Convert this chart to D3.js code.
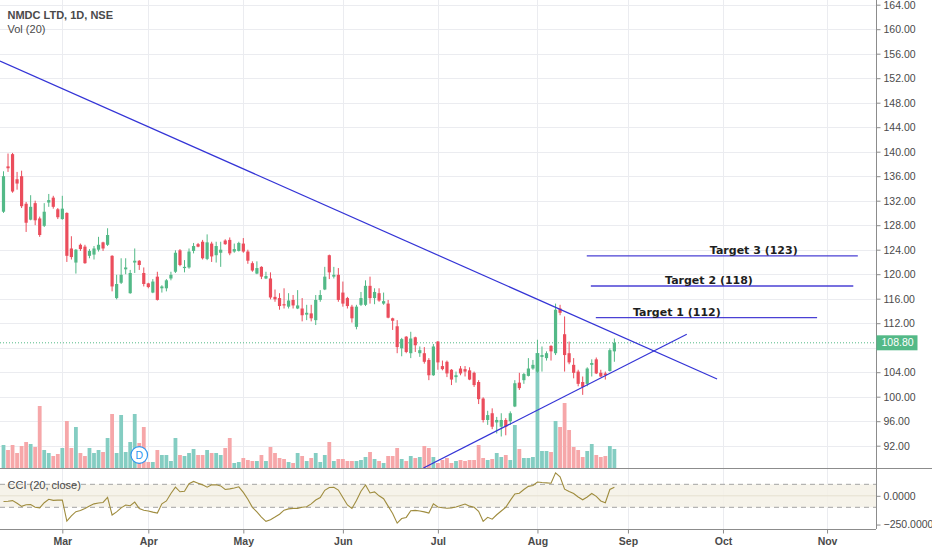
<!DOCTYPE html>
<html>
<head>
<meta charset="utf-8">
<script src="https://cdn.jsdelivr.net/npm/d3@7"></script>
<style>
  body { margin: 0; background: #fff; }
  svg { display: block; font-family: "Liberation Sans", Arial, sans-serif; }
</style>
</head>
<body>
<svg id="chart" width="932" height="550"></svg>
<script>
// NMDC LTD daily candles with volume, CCI(20) and hand-drawn trend / target lines
const MONTHS = ["Mar", "Apr", "May", "Jun", "Jul", "Aug", "Sep", "Oct", "Nov"];
const MONTH_BARS = [13, 32, 53, 75, 96, 118, 138, 159, 182];
const PRICE_TICKS = [92, 96, 100, 104, 108, 112, 116, 120, 124, 128, 132, 136, 140, 144, 148, 152, 156, 160, 164];
const CCI_TICKS = [0, -250];
const CCI_BANDS = [100, -100];

const OPEN = [
  130.2, 137.6, 139.6, 135.5, 136.0, 131.5, 128.9, 131.6, 129.1, 127.9,
  131.7, 132.5, 130.6, 129.0, 130.0, 124.2, 121.9, 124.8, 124.5, 123.0,
  123.2, 124.0, 125.2, 124.8, 123.0, 116.1, 118.6, 120.8, 116.9, 121.9,
  122.2, 120.2, 118.5, 117.0, 119.6, 117.7, 117.7, 119.3, 120.4, 123.9,
  121.0, 121.1, 123.8, 124.9, 125.3, 122.5, 125.0, 123.1, 123.5, 125.5,
  125.6, 123.7, 123.8, 125.0, 123.7, 121.8, 120.1, 121.2, 119.3, 119.3,
  116.3, 116.1, 115.1, 114.7, 115.8, 114.4, 114.4, 113.4, 113.6, 112.5,
  115.8, 117.5, 123.1, 119.6, 119.9, 117.0, 116.1, 114.7, 111.4, 115.0,
  115.0, 118.1, 116.1, 116.9, 115.2, 115.2, 112.8, 111.5, 107.9, 109.8,
  107.1, 109.7, 107.1, 107.1, 106.0, 103.5, 109.0, 105.0, 105.7, 104.4,
  103.2, 104.6, 104.5, 104.3, 103.9, 102.4, 99.7, 96.2, 97.3, 95.8,
  95.1, 96.2, 96.0, 98.4, 102.3, 102.7, 103.4, 104.6, 104.1, 106.5,
  106.3, 108.3, 107.1, 114.4, 110.2, 107.1, 105.2, 104.1, 102.4, 102.1,
  105.2, 106.1, 103.9, 103.8, 104.2, 107.4
];
const HIGH = [
  136.8, 139.7, 139.8, 136.7, 136.9, 131.8, 132.9, 132.0, 129.4, 131.6,
  133.1, 132.8, 130.8, 132.8, 130.1, 126.2, 124.1, 125.0, 124.8, 124.1,
  124.6, 126.1, 125.3, 127.5, 123.1, 119.9, 122.6, 122.6, 120.7, 124.2,
  122.3, 121.1, 118.6, 119.2, 120.4, 118.2, 119.2, 120.4, 123.9, 124.1,
  122.3, 124.2, 125.1, 125.1, 125.6, 126.5, 125.3, 125.3, 125.3, 125.7,
  126.0, 125.0, 125.3, 125.9, 124.0, 122.1, 122.1, 121.3, 120.4, 120.3,
  117.5, 116.9, 117.7, 116.9, 116.6, 117.4, 116.1, 115.0, 115.0, 116.6,
  117.4, 121.2, 123.2, 121.2, 121.0, 118.8, 116.3, 115.0, 115.0, 117.1,
  119.0, 119.6, 117.7, 117.7, 117.0, 115.8, 112.9, 112.5, 109.6, 109.9,
  110.6, 109.8, 108.2, 108.1, 106.3, 108.6, 109.1, 105.9, 105.9, 104.5,
  104.1, 105.0, 105.0, 104.8, 104.1, 102.7, 99.9, 97.7, 98.1, 96.7,
  97.3, 96.5, 97.6, 102.7, 103.9, 103.9, 106.3, 106.0, 109.3, 108.2,
  107.4, 108.4, 115.2, 115.0, 113.1, 109.0, 106.3, 104.4, 103.3, 104.8,
  106.1, 106.4, 104.4, 104.1, 107.9, 109.5
];
const LOW = [
  130.0, 136.7, 133.3, 133.8, 130.8, 126.9, 128.8, 128.0, 126.1, 127.7,
  131.0, 130.7, 129.0, 128.9, 122.0, 122.4, 120.1, 123.8, 121.7, 122.6,
  122.4, 123.7, 123.8, 124.6, 117.2, 115.9, 118.4, 120.0, 116.8, 120.2,
  120.7, 118.0, 117.7, 116.9, 115.7, 117.0, 117.2, 119.0, 120.2, 121.3,
  120.3, 120.9, 123.4, 124.4, 122.4, 122.3, 122.0, 121.9, 121.2, 124.8,
  123.1, 123.5, 123.7, 123.5, 121.7, 120.4, 120.0, 119.2, 119.2, 115.9,
  115.5, 114.2, 114.4, 114.4, 114.4, 114.3, 112.3, 112.5, 112.3, 111.7,
  115.5, 117.4, 119.2, 119.3, 115.5, 114.7, 114.4, 112.1, 111.0, 114.8,
  114.8, 115.2, 115.1, 115.5, 115.0, 112.8, 110.9, 107.1, 106.6, 107.1,
  106.3, 107.3, 106.5, 105.4, 102.7, 103.4, 104.4, 104.3, 103.2, 101.9,
  102.3, 103.5, 103.3, 102.7, 101.6, 98.8, 95.8, 95.4, 94.7, 94.0,
  93.5, 93.7, 95.4, 98.3, 101.1, 102.1, 103.3, 104.4, 103.9, 104.1,
  105.9, 105.9, 106.8, 113.3, 104.1, 105.3, 103.0, 101.7, 100.3, 101.7,
  103.3, 103.7, 103.2, 102.8, 104.1, 105.7
];
const CLOSE = [
  136.0, 137.3, 133.5, 134.8, 131.1, 128.4, 131.0, 128.8, 126.4, 130.2,
  132.1, 131.0, 129.3, 130.7, 123.0, 122.8, 124.0, 124.1, 121.8, 123.8,
  124.2, 124.8, 124.2, 126.4, 118.0, 118.4, 119.9, 121.1, 120.2, 122.2,
  121.5, 118.4, 117.9, 118.8, 115.8, 118.0, 119.0, 119.9, 123.5, 121.5,
  121.2, 123.7, 124.6, 124.5, 122.6, 125.2, 122.9, 124.6, 124.0, 124.9,
  123.4, 124.1, 125.1, 123.7, 122.2, 120.6, 121.0, 119.6, 119.7, 116.2,
  115.9, 114.8, 114.9, 115.7, 114.9, 114.9, 113.3, 113.7, 112.8, 115.8,
  116.6, 119.6, 120.3, 119.9, 115.8, 115.2, 114.8, 112.8, 114.7, 116.1,
  118.1, 116.1, 117.1, 115.7, 115.6, 112.9, 112.4, 108.1, 109.4, 107.3,
  109.5, 108.4, 107.6, 105.7, 103.5, 108.2, 105.6, 104.5, 103.8, 102.8,
  103.5, 103.8, 104.1, 102.8, 101.9, 99.6, 96.2, 97.0, 95.1, 96.2,
  96.2, 95.1, 97.3, 102.2, 101.4, 103.7, 104.6, 105.2, 107.1, 106.8,
  107.1, 107.4, 114.2, 113.7, 106.8, 105.6, 103.9, 102.1, 101.6, 104.6,
  105.5, 103.8, 103.3, 103.5, 107.6, 108.8
];
const VOLUME = [
  23, 18, 23, 15, 22, 26, 24, 21, 62, 18,
  15, 12, 14, 20, 47, 20, 41, 15, 12, 20,
  15, 18, 16, 30, 54, 15, 53, 16, 26, 54,
  25, 41, 6, 6, 18, 13, 13, 7, 30, 13,
  12, 15, 19, 13, 13, 18, 15, 15, 13, 20,
  30, 5, 6, 10, 8, 7, 7, 13, 7, 21,
  15, 10, 9, 6, 5, 15, 12, 7, 10, 15,
  6, 13, 26, 7, 9, 9, 7, 7, 7, 8,
  11, 16, 9, 7, 5, 12, 12, 20, 9, 7,
  12, 10, 11, 22, 20, 11, 5, 8, 10, 5,
  7, 8, 7, 8, 8, 23, 10, 8, 9, 15,
  11, 13, 8, 43, 19, 10, 10, 11, 115, 17,
  17, 16, 47, 41, 65, 38, 21, 18, 11, 17,
  24, 13, 11, 12, 22, 19
];
const CCI = [
  -50, -48, -42, -65, -92, -78, -76, -100, -105, -60,
  -30, -40, -38, -37, -220, -175, -138, -128, -110, -88,
  -70, -62, -58, -13, -167, -140, -105, -80, -86, -55,
  -110, -126, -132, -142, -150, -70, -45, 20, 75, 35,
  40, 105, 125, 110, 95, 75, 95, 96, 86, 55,
  60, 68, 78, 30, -30, -100, -140, -185, -222, -208,
  -185, -160, -125, -114, -109, -109, -100, -95, -70, -37,
  -15, 48, 72, 74, 50, -15, -80, -110, -40, 40,
  94, 25, 34, 0, -25, -90, -153, -238, -198, -188,
  -130, -127, -132, -140, -150, -70, -98, -104, -108, -105,
  -98, -85, -72, -90, -100, -135, -222, -187, -203, -165,
  -132, -100, -40, 16, 22, 55, 82, 90, 120, 115,
  112, 109, 200, 165, 58, 38, 20, -10, -35, -10,
  20, -5, -45, -60, 55, 74
];
const LAST_PRICE = 108.8;

// drawn lines in [bar, price]
const TREND_LINES = [
  [[-0.77, 154.8], [157.7, 102.9]],
  [[92.8, 88.36], [151.0, 110.19]],
];
const TARGETS = [
  { label: "Target 3 (123)", price: 123.0, from: 128.9, to: 188.8, labelAt: 156.1 },
  { label: "Target 2 (118)", price: 118.07, from: 129.8, to: 187.8, labelAt: 146.2 },
  { label: "Target 1 (112)", price: 112.9, from: 130.9, to: 179.8, labelAt: 139.1 },
];
const DIVIDEND_BAR = 30;

const UP = "#53b987", DOWN = "#eb4d5c";
const UP_VOL = "#84cdc2", DOWN_VOL = "#f6a7a9";
const GRID = "#ebecf0";
const TEXT = "#4a4a4a";

const svg = d3.select("#chart");
const W = +svg.attr("width");
const axisX = 876, mainBottom = 468, cciTop = 469, cciBottom = 529;

const x = d3.scaleLinear().domain([0, 192]).range([3.5, 3.5 + 4.525 * 192]);
const y = d3.scaleLinear().domain([92, 164]).range([445.7, 4.7]);
const yVol = d3.scaleLinear().domain([0, 120]).range([mainBottom, mainBottom - 120]);
const yCci = d3.scaleLinear().domain([-250, 250]).range([524.55, 467.05]);

const bars = OPEN.map((o, i) => ({
  i, o, h: HIGH[i], l: LOW[i], c: CLOSE[i], v: VOLUME[i], up: CLOSE[i] >= o,
}));

const defs = svg.append("defs");
defs.append("clipPath").attr("id", "clip-main")
  .append("rect").attr("x", 0).attr("y", 0).attr("width", axisX).attr("height", mainBottom);
defs.append("clipPath").attr("id", "clip-cci")
  .append("rect").attr("x", 0).attr("y", cciTop).attr("width", axisX).attr("height", cciBottom - cciTop);
defs.append("clipPath").attr("id", "clip-cci-axis")
  .append("rect").attr("x", axisX).attr("y", cciTop).attr("width", W - axisX).attr("height", cciBottom - cciTop);

// grid
const grid = svg.append("g").attr("class", "grid");
grid.selectAll("line.h").data(PRICE_TICKS).join("line")
  .attr("x1", 0).attr("x2", axisX)
  .attr("y1", (d) => Math.round(y(d)) + 0.5).attr("y2", (d) => Math.round(y(d)) + 0.5)
  .attr("stroke", GRID);
grid.selectAll("line.v").data(MONTH_BARS).join("line")
  .attr("x1", (d) => Math.round(x(d)) + 0.5).attr("x2", (d) => Math.round(x(d)) + 0.5)
  .attr("y1", 0).attr("y2", cciBottom)
  .attr("stroke", GRID);

// main pane
const main = svg.append("g").attr("clip-path", "url(#clip-main)");

main.selectAll("rect.vol").data(bars).join("rect")
  .attr("class", "vol")
  .attr("x", (d) => x(d.i) - 1.9)
  .attr("width", 3.8)
  .attr("y", (d) => yVol(d.v))
  .attr("height", (d) => yVol(0) - yVol(d.v))
  .attr("fill", (d) => (d.up ? UP_VOL : DOWN_VOL));

main.append("line")
  .attr("x1", 0).attr("x2", axisX)
  .attr("y1", y(LAST_PRICE)).attr("y2", y(LAST_PRICE))
  .attr("stroke", UP).attr("stroke-width", 1).attr("stroke-dasharray", "1,2");

const candles = main.selectAll("g.candle").data(bars).join("g").attr("class", "candle");
candles.append("line")
  .attr("x1", (d) => x(d.i)).attr("x2", (d) => x(d.i))
  .attr("y1", (d) => y(d.h)).attr("y2", (d) => y(d.l))
  .attr("stroke", (d) => (d.up ? UP : DOWN)).attr("stroke-width", 1);
candles.append("rect")
  .attr("x", (d) => x(d.i) - 1.6)
  .attr("width", 3.2)
  .attr("y", (d) => y(Math.max(d.o, d.c)))
  .attr("height", (d) => Math.max(1, Math.abs(y(d.o) - y(d.c))))
  .attr("fill", (d) => (d.up ? UP : DOWN));

main.selectAll("line.trend").data(TREND_LINES).join("line")
  .attr("class", "trend")
  .attr("x1", (d) => x(d[0][0])).attr("y1", (d) => y(d[0][1]))
  .attr("x2", (d) => x(d[1][0])).attr("y2", (d) => y(d[1][1]))
  .attr("stroke", "#3434d6").attr("stroke-width", 1.2);

const tg = main.selectAll("g.target").data(TARGETS).join("g").attr("class", "target");
tg.append("line")
  .attr("x1", (d) => x(d.from)).attr("x2", (d) => x(d.to))
  .attr("y1", (d) => y(d.price)).attr("y2", (d) => y(d.price))
  .attr("stroke", "#4a40d4").attr("stroke-width", 1.3);
tg.append("text")
  .attr("x", (d) => x(d.labelAt)).attr("y", (d) => y(d.price) - 2)
  .attr("font-family", "DejaVu Sans, sans-serif")
  .attr("font-weight", "bold").attr("font-size", 11)
  .attr("fill", "#1e1e1e")
  .text((d) => d.label);

// dividend badge
const badge = main.append("g")
  .attr("transform", `translate(${x(DIVIDEND_BAR)},${yVol(0) - 13})`);
badge.append("circle").attr("r", 8.3).attr("fill", "#fff")
  .attr("stroke", "#2f96f0").attr("stroke-width", 1.2);
badge.append("text").attr("text-anchor", "middle").attr("dy", "0.36em")
  .attr("font-size", 10.5).attr("fill", "#2f96f0").text("D");

// CCI pane
const cci = svg.append("g").attr("clip-path", "url(#clip-cci)");
cci.append("rect")
  .attr("x", 0).attr("width", axisX)
  .attr("y", yCci(CCI_BANDS[0])).attr("height", yCci(CCI_BANDS[1]) - yCci(CCI_BANDS[0]))
  .attr("fill", "#f5f1e6").attr("opacity", 0.85);
cci.append("line")
  .attr("x1", 0).attr("x2", axisX).attr("y1", yCci(0)).attr("y2", yCci(0))
  .attr("stroke", "#e6e0d0");
cci.selectAll("line.band").data(CCI_BANDS).join("line")
  .attr("class", "band")
  .attr("x1", 0).attr("x2", axisX)
  .attr("y1", (d) => yCci(d)).attr("y2", (d) => yCci(d))
  .attr("stroke", "#a3a3a3").attr("stroke-dasharray", "5,4");
cci.append("path")
  .datum(CCI)
  .attr("fill", "none").attr("stroke", "#9f8c3e").attr("stroke-width", 1.1)
  .attr("d", d3.line().x((d, i) => x(i)).y((d) => yCci(d)));

// frame
svg.append("line").attr("x1", 0).attr("x2", W).attr("y1", mainBottom + 0.5).attr("y2", mainBottom + 0.5)
  .attr("stroke", "#8c8c8c");
svg.append("line").attr("x1", 0).attr("x2", axisX).attr("y1", cciBottom + 0.5).attr("y2", cciBottom + 0.5)
  .attr("stroke", "#8c8c8c");
svg.append("line").attr("x1", axisX + 0.5).attr("x2", axisX + 0.5).attr("y1", 0).attr("y2", cciBottom)
  .attr("stroke", "#8c8c8c");

// price axis (the label hidden under the last-price tag is dropped, as the platform does)
const gy = svg.append("g").attr("transform", `translate(${axisX + 0.5},0)`)
  .call(d3.axisRight(y).tickValues(PRICE_TICKS).tickFormat(d3.format(".2f")).tickSize(4).tickPadding(3));
gy.select(".domain").remove();
gy.selectAll("line").attr("stroke", "#8c8c8c");
gy.selectAll("text").attr("font-size", 10.5).attr("fill", TEXT).attr("font-family", "Liberation Sans, Arial, sans-serif");
gy.selectAll(".tick").filter((d) => Math.abs(y(d) - y(LAST_PRICE)) < 12).select("text").remove();

// last price tag
const tag = svg.append("g").attr("transform", `translate(${axisX + 0.5},${y(LAST_PRICE)})`);
tag.append("rect").attr("x", 0).attr("y", -7.5).attr("width", 41).attr("height", 15).attr("fill", UP);
tag.append("text").attr("x", 5).attr("dy", "0.35em").attr("font-size", 10.5).attr("fill", "#fff")
  .text(d3.format(".2f")(LAST_PRICE));

// CCI axis
const gc = svg.append("g").attr("clip-path", "url(#clip-cci-axis)")
  .append("g").attr("transform", `translate(${axisX + 0.5},0)`)
  .call(d3.axisRight(yCci).tickValues(CCI_TICKS).tickFormat(d3.format(".4f")).tickSize(4).tickPadding(3));
gc.select(".domain").remove();
gc.selectAll("line").attr("stroke", "#8c8c8c");
gc.selectAll("text").attr("font-size", 10.5).attr("fill", TEXT).attr("font-family", "Liberation Sans, Arial, sans-serif");

// time axis
const gx = svg.append("g").attr("transform", `translate(0,${cciBottom + 0.5})`)
  .call(d3.axisBottom(x).tickValues(MONTH_BARS).tickFormat((d, i) => MONTHS[i]).tickSize(4).tickPadding(4));
gx.select(".domain").remove();
gx.selectAll("line").attr("stroke", "#8c8c8c");
gx.selectAll("text").attr("font-size", 10.5).attr("font-weight", "bold").attr("fill", TEXT)
  .attr("font-family", "Liberation Sans, Arial, sans-serif");

// legends
svg.append("text").attr("x", 7.5).attr("y", 18.5).attr("font-size", 11).attr("font-weight", "bold")
  .attr("fill", TEXT).text("NMDC LTD, 1D, NSE");
svg.append("text").attr("x", 7.5).attr("y", 32.5).attr("font-size", 11)
  .attr("fill", TEXT).text("Vol (20)");
svg.append("text").attr("x", 7.5).attr("y", 488.5).attr("font-size", 11)
  .attr("fill", TEXT).text("CCI (20, close)");
</script>
</body>
</html>
